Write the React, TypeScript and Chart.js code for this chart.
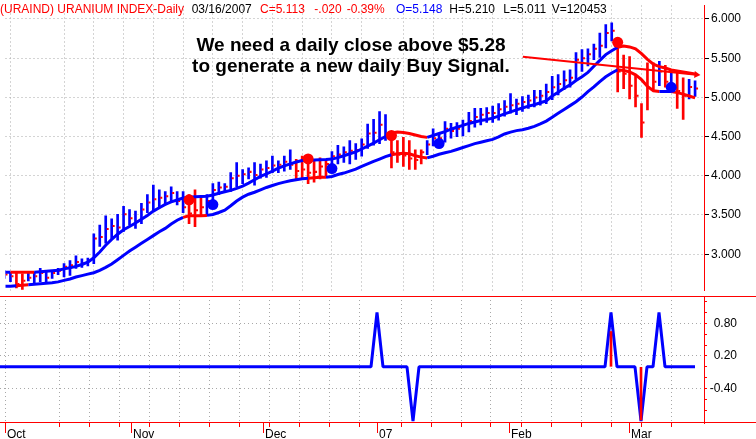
import React, { useEffect, useRef } from "react";
import { Chart, registerables } from "chart.js";

Chart.register(...registerables);

const FONT = '"Liberation Sans", Arial, Helvetica, sans-serif';
const RED = "#ff0000";
const BLUE = "#0000ff";
const GRID = "#a8a8a8";

// ---- data (bar index k = 0..116, one per trading day, Oct 2006 .. 16 Mar 2007) ----
const highs = [
  2.79, 2.77, 2.77, 2.75, 2.76, 2.77, 2.82, 2.79, 2.79, 2.82,
  2.88, 2.92, 2.98, 2.94, 2.95, 3.26, 3.37, 3.49, 3.45, 3.51,
  3.61, 3.57, 3.55, 3.65, 3.76, 3.88, 3.82, 3.80, 3.86, 3.80,
  3.80, 3.76, 3.82, 3.72, 3.76, 3.90, 3.92, 3.90, 4.04, 4.17,
  4.08, 4.10, 4.17, 4.15, 4.19, 4.25, 4.19, 4.25, 4.33, 4.21,
  4.25, 4.23, 4.19, 4.23, 4.21, 4.31, 4.39, 4.37, 4.45, 4.41,
  4.47, 4.66, 4.72, 4.82, 4.78, 4.55, 4.45, 4.49, 4.45, 4.33,
  4.33, 4.45, 4.60, 4.53, 4.69, 4.67, 4.68, 4.71, 4.81, 4.86,
  4.86, 4.87, 4.89, 4.92, 4.96, 5.05, 4.98, 5.01, 5.03, 5.09,
  5.09, 5.17, 5.27, 5.29, 5.34, 5.35, 5.57, 5.61, 5.62, 5.68,
  5.82, 5.93, 5.95, 5.76, 5.54, 5.52, 5.27, 4.92, 5.44, 5.44,
  5.46, 5.41, 5.33, 5.31, 5.25, 5.23, 5.21,
];
const lows = [
  2.69, 2.65, 2.57, 2.55, 2.66, 2.63, 2.65, 2.63, 2.69, 2.74,
  2.71, 2.73, 2.82, 2.83, 2.85, 2.88, 3.10, 3.14, 3.20, 3.18,
  3.29, 3.37, 3.33, 3.39, 3.53, 3.55, 3.59, 3.63, 3.67, 3.63,
  3.53, 3.39, 3.35, 3.49, 3.49, 3.63, 3.76, 3.80, 3.80, 3.86,
  3.90, 3.96, 3.88, 3.97, 3.98, 4.04, 4.04, 4.06, 4.08, 3.94,
  3.96, 3.90, 3.92, 3.96, 4.00, 4.10, 4.15, 4.17, 4.15, 4.21,
  4.25, 4.35, 4.39, 4.41, 4.45, 4.10, 4.17, 4.12, 4.08, 4.08,
  4.15, 4.27, 4.38, 4.39, 4.43, 4.48, 4.50, 4.51, 4.56, 4.62,
  4.65, 4.68, 4.68, 4.71, 4.76, 4.80, 4.78, 4.82, 4.86, 4.88,
  4.90, 4.92, 4.97, 5.03, 5.10, 5.13, 5.23, 5.33, 5.40, 5.48,
  5.51, 5.63, 5.72, 5.07, 5.11, 4.98, 4.88, 4.49, 4.84, 5.09,
  5.15, 5.13, 5.11, 4.86, 4.72, 4.98, 5.011,
];
const closes = [
  2.74, 2.72, 2.62, 2.66, 2.70, 2.72, 2.76, 2.70, 2.76, 2.79,
  2.84, 2.86, 2.90, 2.88, 2.92, 3.20, 3.22, 3.32, 3.36, 3.34,
  3.51, 3.46, 3.42, 3.57, 3.66, 3.70, 3.72, 3.74, 3.78, 3.68,
  3.60, 3.52, 3.56, 3.60, 3.68, 3.82, 3.85, 3.86, 3.97, 4.00,
  4.02, 4.05, 4.01, 4.08, 4.10, 4.13, 4.14, 4.18, 4.14, 4.06,
  4.08, 4.04, 4.05, 4.12, 4.15, 4.25, 4.27, 4.30, 4.32, 4.33,
  4.40, 4.54, 4.55, 4.65, 4.54, 4.30, 4.27, 4.26, 4.22, 4.20,
  4.30, 4.40, 4.48, 4.48, 4.60, 4.57, 4.60, 4.65, 4.70, 4.75,
  4.78, 4.80, 4.80, 4.85, 4.88, 4.90, 4.92, 4.94, 4.96, 5.00,
  5.02, 5.07, 5.13, 5.17, 5.22, 5.25, 5.48, 5.50, 5.55, 5.62,
  5.66, 5.82, 5.85, 5.33, 5.30, 5.15, 5.02, 4.68, 5.12, 5.20,
  5.33, 5.20, 5.15, 5.08, 5.02, 5.133, 5.113,
];
const upperBand = [
  2.770, 2.770, 2.770, 2.770, 2.770, 2.770, 2.776, 2.783, 2.789, 2.795,
  2.813, 2.826, 2.844, 2.869, 2.899, 2.955, 3.028, 3.114, 3.188, 3.255,
  3.311, 3.354, 3.397, 3.446, 3.495, 3.550, 3.593, 3.636, 3.667, 3.691,
  3.716, 3.728, 3.734, 3.737, 3.740, 3.756, 3.777, 3.796, 3.814, 3.839,
  3.869, 3.906, 3.949, 3.992, 4.023, 4.060, 4.097, 4.127, 4.152, 4.176,
  4.195, 4.201, 4.203, 4.205, 4.207, 4.213, 4.232, 4.256, 4.281, 4.305,
  4.342, 4.379, 4.416, 4.459, 4.502, 4.545, 4.557, 4.551, 4.539, 4.520,
  4.502, 4.490, 4.514, 4.539, 4.563, 4.594, 4.619, 4.643, 4.668, 4.686,
  4.705, 4.719, 4.735, 4.760, 4.790, 4.815, 4.840, 4.864, 4.889, 4.907,
  4.932, 4.956, 5.018, 5.067, 5.116, 5.159, 5.214, 5.263, 5.319, 5.398,
  5.472, 5.546, 5.595, 5.640, 5.656, 5.644, 5.619, 5.558, 5.484, 5.423,
  5.392, 5.374, 5.349, 5.337, 5.325, 5.312, 5.300,
];
const lowerBand = [
  2.590, 2.592, 2.598, 2.605, 2.611, 2.617, 2.623, 2.629, 2.635, 2.647,
  2.666, 2.684, 2.709, 2.727, 2.746, 2.764, 2.795, 2.832, 2.875, 2.930,
  2.985, 3.040, 3.090, 3.139, 3.188, 3.237, 3.286, 3.329, 3.384, 3.433,
  3.470, 3.489, 3.491, 3.491, 3.495, 3.507, 3.532, 3.562, 3.618, 3.679,
  3.728, 3.765, 3.790, 3.820, 3.851, 3.876, 3.900, 3.919, 3.937, 3.949,
  3.962, 3.968, 3.974, 3.980, 3.982, 3.992, 4.017, 4.035, 4.060, 4.084,
  4.121, 4.152, 4.183, 4.213, 4.244, 4.269, 4.281, 4.287, 4.281, 4.256,
  4.238, 4.228, 4.250, 4.275, 4.293, 4.312, 4.336, 4.361, 4.385, 4.410,
  4.428, 4.447, 4.465, 4.496, 4.533, 4.557, 4.576, 4.588, 4.606, 4.631,
  4.661, 4.698, 4.747, 4.797, 4.846, 4.895, 4.944, 5.005, 5.073, 5.134,
  5.202, 5.263, 5.312, 5.353, 5.343, 5.325, 5.288, 5.226, 5.140, 5.085,
  5.075, 5.075, 5.075, 5.061, 5.042, 5.018, 4.993,
];
const barRedRanges = [[2, 3], [31, 33], [49, 54], [65, 70], [103, 109], [111, 111], [113, 114]];
const upperRedRanges = [[1, 5], [65, 71], [103, 116]];
const lowerRedRanges = [[2, 4], [30, 34], [51, 54], [65, 71], [103, 110], [112, 116]];
const sellDots = [[31, 3.694], [51, 4.215], [65, 4.514], [103, 5.702]];
const buyDots = [[35, 3.633], [55, 4.092], [73, 4.412], [112, 5.128]];
const trendLine = [[87.07, 5.517], [116.23, 5.29]];
const signalSpikes = [[63, 1], [69, -1], [102, 1], [107, -1], [110, 1]];
const signalBars = [[102, 0.65], [107, -0.98]];
const monthTicks = [1, 22, 44, 63, 85, 105];
const monthLabels = ["Oct", "Nov", "Dec", "07", "Feb", "Mar"];
const gridTicks = [1, 10, 15, 20, 25, 30, 35, 40, 45, 50, 55, 60, 67, 72, 77, 82, 87, 92, 97, 102, 107, 112];
const priceTicks = [3, 3.5, 4, 4.5, 5, 5.5, 6];
const signalTicks = [-0.8, -0.6, -0.4, -0.2, 0, 0.2, 0.4, 0.6, 0.8, 1.0, 1.2];
const signalLabels: Record<string, string> = { "0.8": "0.80", "0.2": "0.20", "-0.4": "-0.40" };

const headerParts: [string, string, number][] = [
  ["(URAIND) URANIUM INDEX-Daily", RED, 0],
  ["03/16/2007", "#000", 191.7],
  ["C=5.113", RED, 260],
  ["-.020", RED, 314.3],
  ["-0.39%", RED, 346.7],
  ["O=5.148", BLUE, 396],
  ["H=5.210", "#000", 449.3],
  ["L=5.011", "#000", 503.3],
  ["V=120453", "#000", 551.7],
];

// ---- layout ----
const X_MIN = 1 / 6;
const X_MAX = 117.5;
const AXIS_W = 52;
const LOWER_AXIS_W = 33;
const LOWER_RIGHT_PAD = AXIS_W - LOWER_AXIS_W;

const inRanges = (k: number, r: number[][]) => r.some(([a, b]) => k >= a && k <= b);

const ks = highs.map((_, k) => k);

function noPad(s: any) {
  s.paddingLeft = 0;
  s.paddingRight = 0;
  s.paddingTop = 0;
  s.paddingBottom = 0;
}

function upperConfig(): any {
  return {
    type: "bar",
    data: {
      datasets: [
        {
          type: "scatter",
          data: sellDots.map(([x, y]) => ({ x, y })),
          pointRadius: 5.5,
          pointBackgroundColor: RED,
          pointBorderWidth: 0,
          order: 0,
        },
        {
          type: "scatter",
          data: buyDots.map(([x, y]) => ({ x, y })),
          pointRadius: 5.5,
          pointBackgroundColor: BLUE,
          pointBorderWidth: 0,
          order: 0,
        },
        {
          type: "line",
          data: trendLine.map(([x, y]) => ({ x, y })),
          borderColor: RED,
          borderWidth: 2,
          pointRadius: [0, 4],
          pointStyle: "triangle",
          pointRotation: [0, 96],
          pointBackgroundColor: RED,
          pointBorderWidth: 0,
          order: 1,
        },
        {
          type: "line",
          data: ks.map((k) => ({ x: k, y: upperBand[k] })),
          borderColor: BLUE,
          borderWidth: 3,
          pointRadius: 0,
          tension: 0,
          segment: {
            borderColor: (c: any) =>
              inRanges(c.p0DataIndex, upperRedRanges) && inRanges(c.p1DataIndex, upperRedRanges) ? RED : BLUE,
          },
          order: 2,
        },
        {
          type: "line",
          data: ks.map((k) => ({ x: k, y: lowerBand[k] })),
          borderColor: BLUE,
          borderWidth: 3,
          pointRadius: 0,
          tension: 0,
          segment: {
            borderColor: (c: any) =>
              inRanges(c.p0DataIndex, lowerRedRanges) && inRanges(c.p1DataIndex, lowerRedRanges) ? RED : BLUE,
          },
          order: 2,
        },
        {
          type: "scatter",
          data: ks.map((k) => ({ x: k + 1 / 3, y: closes[k] })),
          pointStyle: "rect",
          pointRadius: 1.42,
          pointBackgroundColor: RED,
          pointBorderWidth: 0,
          order: 3,
        },
        {
          type: "bar",
          data: ks.map((k) => ({ x: k, y: [lows[k], highs[k]] })),
          backgroundColor: (c: any) => (inRanges(c.dataIndex, barRedRanges) ? RED : BLUE),
          borderWidth: 0,
          barThickness: 2,
          order: 4,
        },
      ],
    },
    options: {
      responsive: false,
      animation: false,
      events: [],
      layout: { padding: 0 },
      plugins: { legend: { display: false }, tooltip: { enabled: false } },
      scales: {
        x: {
          type: "linear",
          position: "bottom",
          offset: false,
          min: X_MIN,
          max: X_MAX,
          afterBuildTicks: (s: any) => {
            s.ticks = gridTicks.map((v) => ({ value: v }));
          },
          afterFit: (s: any) => {
            s.height = 0;
            noPad(s);
          },
          ticks: { display: false, autoSkip: false },
          grid: { color: GRID, drawTicks: false, offset: false },
          border: { display: false, dash: [1, 3] },
        },
        y: {
          type: "linear",
          position: "right",
          min: 2.537,
          max: 6.172,
          afterBuildTicks: (s: any) => {
            s.ticks = priceTicks.map((v) => ({ value: v }));
          },
          afterFit: (s: any) => {
            s.width = AXIS_W;
            noPad(s);
          },
          ticks: {
            autoSkip: false,
            callback: (v: any) => Number(v).toFixed(3),
            color: "#000",
            padding: 2,
            font: { family: FONT, size: 12 },
          },
          grid: { color: GRID, tickColor: "#000", tickLength: 5 },
          border: { color: RED, width: 1, dash: [1, 3] },
        },
      },
    },
  };
}

const frameLower = {
  id: "frameLower",
  afterDraw(chart: any) {
    const { ctx, chartArea } = chart;
    ctx.save();
    ctx.strokeStyle = RED;
    ctx.lineWidth = 1;
    ctx.beginPath();
    ctx.moveTo(0, Math.round(chartArea.top) + 0.5);
    ctx.lineTo(chart.width, Math.round(chartArea.top) + 0.5);
    ctx.moveTo(0, Math.round(chartArea.bottom) - 0.5);
    ctx.lineTo(chart.width, Math.round(chartArea.bottom) - 0.5);
    ctx.stroke();
    ctx.restore();
  },
};

function lowerConfig(): any {
  const signal = ks.map((k) => {
    const s = signalSpikes.find((p) => p[0] === k);
    return { x: k, y: s ? s[1] : 0 };
  });
  return {
    type: "bar",
    data: {
      datasets: [
        {
          type: "bar",
          data: signalBars.map(([x, y]) => ({ x, y })),
          backgroundColor: RED,
          borderWidth: 0,
          barThickness: 2,
          order: 0,
        },
        {
          type: "line",
          data: signal,
          borderColor: BLUE,
          borderWidth: 3,
          borderJoinStyle: "bevel",
          pointRadius: 0,
          tension: 0,
          order: 1,
        },
      ],
    },
    options: {
      responsive: false,
      animation: false,
      events: [],
      layout: { padding: { left: 0, top: 0, bottom: 0, right: LOWER_RIGHT_PAD } },
      plugins: { legend: { display: false }, tooltip: { enabled: false } },
      scales: {
        x: {
          type: "linear",
          position: "bottom",
          offset: false,
          weight: 0,
          min: X_MIN,
          max: X_MAX,
          afterBuildTicks: (s: any) => {
            s.ticks = gridTicks.map((v) => ({ value: v }));
          },
          afterFit: (s: any) => {
            s.height = 0;
            noPad(s);
          },
          ticks: { display: false, autoSkip: false },
          grid: { color: GRID, tickColor: RED, tickLength: 4, offset: false },
          border: { display: false, dash: [1, 3] },
        },
        xm: {
          type: "linear",
          position: "bottom",
          offset: false,
          weight: 1,
          min: X_MIN,
          max: X_MAX,
          afterBuildTicks: (s: any) => {
            s.ticks = monthTicks.map((v) => ({ value: v }));
          },
          afterFit: (s: any) => {
            s.height = 16;
            noPad(s);
          },
          ticks: {
            autoSkip: false,
            maxRotation: 0,
            minRotation: 0,
            align: "start",
            padding: -6,
            labelOffset: 2,
            color: "#000",
            font: { family: FONT, size: 12 },
            callback: (v: any) => {
              const i = monthTicks.indexOf(Number(v));
              return i >= 0 ? monthLabels[i] : "";
            },
          },
          grid: { drawOnChartArea: false, color: RED, tickColor: RED, tickLength: 10, offset: false },
          border: { display: false },
        },
        y: {
          type: "linear",
          position: "right",
          min: -1.035,
          max: 1.304,
          afterBuildTicks: (s: any) => {
            s.ticks = signalTicks.map((v) => ({ value: v }));
          },
          afterFit: (s: any) => {
            s.width = LOWER_AXIS_W;
            noPad(s);
          },
          ticks: {
            autoSkip: false,
            callback: (v: any) => signalLabels[String(v)] ?? "",
            crossAlign: "far",
            padding: 3,
            color: "#000",
            font: { family: FONT, size: 12 },
          },
          grid: {
            color: (c: any) => (c.tick && signalLabels[String(c.tick.value)] ? GRID : "transparent"),
            tickColor: RED,
            tickLength: 3,
          },
          border: { color: RED, width: 1, dash: [1, 3] },
        },
      },
    },
    plugins: [frameLower],
  };
}

export default function App() {
  const topRef = useRef<HTMLCanvasElement>(null);
  const botRef = useRef<HTMLCanvasElement>(null);

  useEffect(() => {
    Chart.defaults.font.family = FONT;
    Chart.defaults.color = "#000";
    const top = new Chart(topRef.current as HTMLCanvasElement, upperConfig());
    const bot = new Chart(botRef.current as HTMLCanvasElement, lowerConfig());
    return () => {
      top.destroy();
      bot.destroy();
    };
  }, []);

  return (
    <div
      style={{
        position: "fixed",
        left: 0,
        top: 0,
        width: 756,
        height: 439,
        background: "#fff",
        overflow: "hidden",
        fontFamily: FONT,
      }}
    >
      <canvas ref={topRef} width={756} height={296} style={{ position: "absolute", left: 0, top: 0 }} />
      <canvas ref={botRef} width={756} height={143} style={{ position: "absolute", left: 0, top: 296 }} />
      {headerParts.map(([text, color, left]) => (
        <div
          key={text}
          style={{
            position: "absolute",
            left,
            top: 2.5,
            fontSize: 12,
            lineHeight: "12px",
            color,
            whiteSpace: "nowrap",
          }}
        >
          {text}
        </div>
      ))}
      <div
        style={{
          position: "absolute",
          left: 0,
          top: 34,
          width: 702,
          textAlign: "center",
          fontSize: 19,
          fontWeight: "bold",
          lineHeight: "21px",
          color: "#000",
          whiteSpace: "nowrap",
        }}
      >
        <div>We need a daily close above $5.28</div>
        <div>to generate a new daily Buy Signal.</div>
      </div>
    </div>
  );
}
